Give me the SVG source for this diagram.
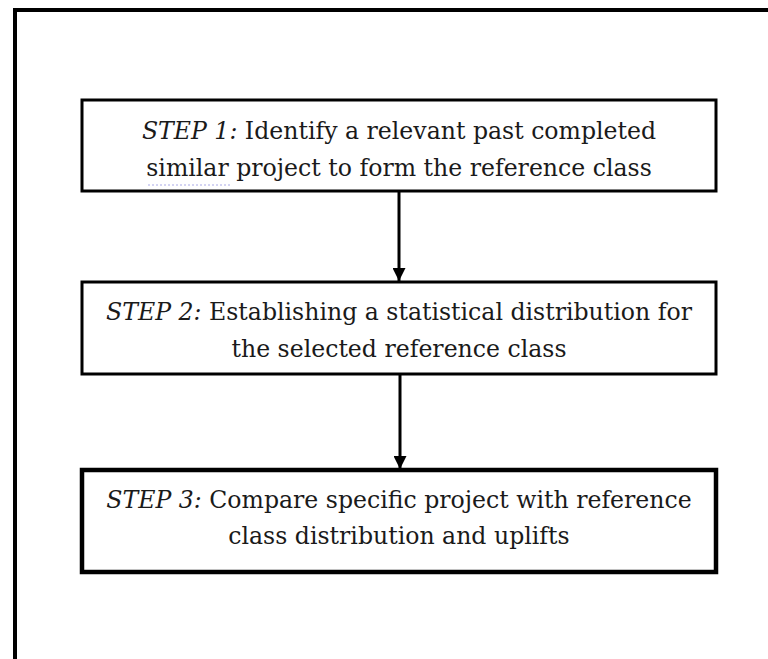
<svg xmlns="http://www.w3.org/2000/svg" width="768" height="659" viewBox="0 0 768 659">
<defs>
<style>
.box{fill:#fff;stroke:#000;stroke-width:3}
.box3{fill:#fff;stroke:#000;stroke-width:4.5}
.t{font-family:"DejaVu Serif","Liberation Serif",serif;font-size:23.6px;fill:#1a1a1a;text-anchor:middle}
.i{font-style:italic}
.conn{stroke:#000;stroke-width:3;fill:none}
</style>
<marker id="ah" markerUnits="userSpaceOnUse" markerWidth="14" markerHeight="13" refX="13" refY="6.5" orient="auto">
<path d="M0,0 L13,6.5 L0,13 Z" fill="#000"/>
</marker>
</defs>
<rect width="768" height="659" fill="#fff"/>
<path d="M15,659 V10 H768" fill="none" stroke="#000" stroke-width="4"/>
<g id="connectors">
<line class="conn" x1="399" y1="191" x2="399" y2="281" marker-end="url(#ah)"/>
<line class="conn" x1="400" y1="374" x2="400" y2="469" marker-end="url(#ah)"/>
</g>
<g id="step1">
<rect class="box" x="82" y="100" width="634" height="91"/>
<text class="t" x="399" y="139"><tspan class="i">STEP 1:</tspan> Identify a relevant past completed</text>
<text class="t" x="399" y="176">similar project to form the reference class</text>
<line x1="148" y1="185" x2="232" y2="185" stroke="#a9a9e6" stroke-width="1" stroke-dasharray="2,2"/>
</g>
<g id="step2">
<rect class="box" x="82" y="282" width="634" height="92"/>
<text class="t" x="399" y="320"><tspan class="i">STEP 2:</tspan> Establishing a statistical distribution for</text>
<text class="t" x="399" y="357">the selected reference class</text>
</g>
<g id="step3">
<rect class="box3" x="82" y="470" width="634" height="102"/>
<text class="t" x="399" y="508"><tspan class="i">STEP 3:</tspan> Compare specific project with reference</text>
<text class="t" x="399" y="544">class distribution and uplifts</text>
</g>
</svg>
